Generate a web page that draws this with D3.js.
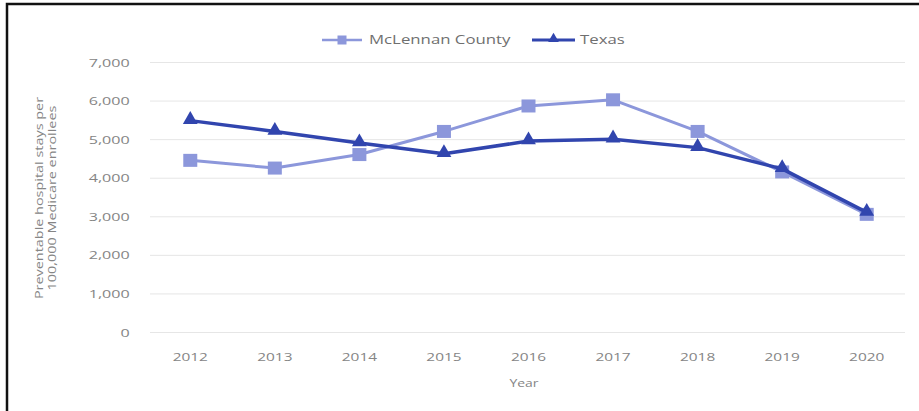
<!DOCTYPE html>
<html>
<head>
<meta charset="utf-8">
<script src="https://cdn.jsdelivr.net/npm/d3@7/dist/d3.min.js"></script>
<style>
  html, body { margin: 0; padding: 0; background: #fff; }
  svg { display: block; }
  text { font-family: "Open Sans", sans-serif; }
</style>
</head>
<body>
<svg id="chart" width="919" height="411"></svg>
<script>
// Preventable hospital stays per 100,000 Medicare enrollees
const years = ["2012", "2013", "2014", "2015", "2016", "2017", "2018", "2019", "2020"];
const mclennan = [4450, 4250, 4600, 5200, 5860, 6020, 5200, 4150, 3050];
const texas = [5480, 5200, 4900, 4620, 4950, 5000, 4780, 4230, 3100];
const yTicks = [0, 1000, 2000, 3000, 4000, 5000, 6000, 7000];
const seriesNames = ["McLennan County", "Texas"];
const yTitle = ["Preventable hospital stays per", "100,000 Medicare enrollees"];
const xTitle = "Year";

const colors = { mc: "#8c97db", tx: "#3145ae" };
const textGray = "#858585";
const stretch = 1.4; // wide glyph look

const svg = d3.select("#chart");

// frame (left and top edges)
svg.append("path")
  .attr("d", "M7,411 V4 H919")
  .attr("fill", "none")
  .attr("stroke", "#111")
  .attr("stroke-width", 2.5);

const x = d3.scaleBand().domain(years).range([148, 909]).padding(0);
const y = d3.scaleLinear().domain([0, 7000]).range([332, 62]);
const cx = d => x(d) + x.bandwidth() / 2;

// y axis with gridlines
const yAxis = svg.append("g")
  .attr("transform", "translate(150,0)")
  .call(d3.axisLeft(y).tickValues(yTicks).tickSize(-755).tickPadding(0)
    .tickFormat(d3.format(",")));
yAxis.select(".domain").remove();
yAxis.selectAll(".tick line").attr("stroke", "#e6e6e6").attr("stroke-width", 1)
  .attr("x1", 0);
yAxis.selectAll(".tick text")
  .attr("x", -14.5)
  .attr("dy", "0.35em")
  .attr("transform", `scale(${stretch},1)`)
  .attr("fill", textGray)
  .style("font-size", "11.5px")
  .style("font-family", "Open Sans, sans-serif");

// x axis labels
const xAxis = svg.append("g")
  .attr("transform", "translate(0,332)")
  .call(d3.axisBottom(x).tickSize(0).tickPadding(0));
xAxis.select(".domain").remove();
xAxis.selectAll(".tick text")
  .attr("y", 0)
  .attr("dy", 0)
  .attr("transform", `translate(0,29) scale(${stretch},1)`)
  .attr("fill", textGray)
  .style("font-size", "11px")
  .style("font-family", "Open Sans, sans-serif");
xAxis.selectAll(".tick").each(function (d) {
  d3.select(this).attr("transform", `translate(${cx(d)},0)`);
});

// axis titles
svg.append("text")
  .attr("transform", `translate(524,387) scale(${stretch},1)`)
  .attr("text-anchor", "middle")
  .attr("fill", textGray)
  .style("font-size", "10px")
  .text(xTitle);

const yt = svg.append("g").attr("transform", "translate(43,198) rotate(-90)");
yTitle.forEach((t, i) => {
  yt.append("text")
    .attr("transform", `translate(0,${i * 12.5}) scale(${stretch},1)`)
    .attr("text-anchor", "middle")
    .attr("fill", textGray)
    .style("font-size", "10.3px")
    .text(t);
});

// lines
const line = d3.line().x((d, i) => cx(years[i])).y(d => y(d));

svg.append("path").datum(mclennan)
  .attr("d", line).attr("fill", "none")
  .attr("stroke", colors.mc).attr("stroke-width", 3).attr("stroke-linejoin", "round");

svg.selectAll("rect.mc").data(mclennan).enter().append("rect")
  .attr("class", "mc")
  .attr("x", (d, i) => cx(years[i]) - 7)
  .attr("y", d => y(d) - 6.5)
  .attr("width", 14).attr("height", 13)
  .attr("fill", colors.mc);

svg.append("path").datum(texas)
  .attr("d", line).attr("fill", "none")
  .attr("stroke", colors.tx).attr("stroke-width", 3.5).attr("stroke-linejoin", "round");

const tri = d3.symbol().type(d3.symbolTriangle).size(95);
svg.selectAll("path.tx").data(texas).enter().append("path")
  .attr("class", "tx")
  .attr("d", tri)
  .attr("transform", (d, i) => `translate(${cx(years[i])},${y(d) - 1})`)
  .attr("fill", colors.tx);

// legend
const legend = svg.append("g").attr("transform", "translate(0,40)");
const legendItems = [
  { name: seriesNames[0], color: colors.mc, x0: 322, x1: 362, tx: 369, kind: "square", w: 2.5 },
  { name: seriesNames[1], color: colors.tx, x0: 532, x1: 575, tx: 580, kind: "triangle", w: 3 }
];
legendItems.forEach(it => {
  legend.append("line")
    .attr("x1", it.x0).attr("x2", it.x1).attr("y1", 0).attr("y2", 0)
    .attr("stroke", it.color).attr("stroke-width", it.w);
  const mx = (it.x0 + it.x1) / 2;
  if (it.kind === "square") {
    legend.append("rect").attr("x", mx - 4.5).attr("y", -4.5)
      .attr("width", 9).attr("height", 9).attr("fill", it.color);
  } else {
    legend.append("path").attr("d", d3.symbol().type(d3.symbolTriangle).size(50))
      .attr("transform", `translate(${mx},-1)`).attr("fill", it.color);
  }
  legend.append("text")
    .attr("transform", `translate(${it.tx},4) scale(${stretch},1)`)
    .attr("fill", "#6f6f6f")
    .style("font-size", "12px")
    .text(it.name);
});
</script>
</body>
</html>
